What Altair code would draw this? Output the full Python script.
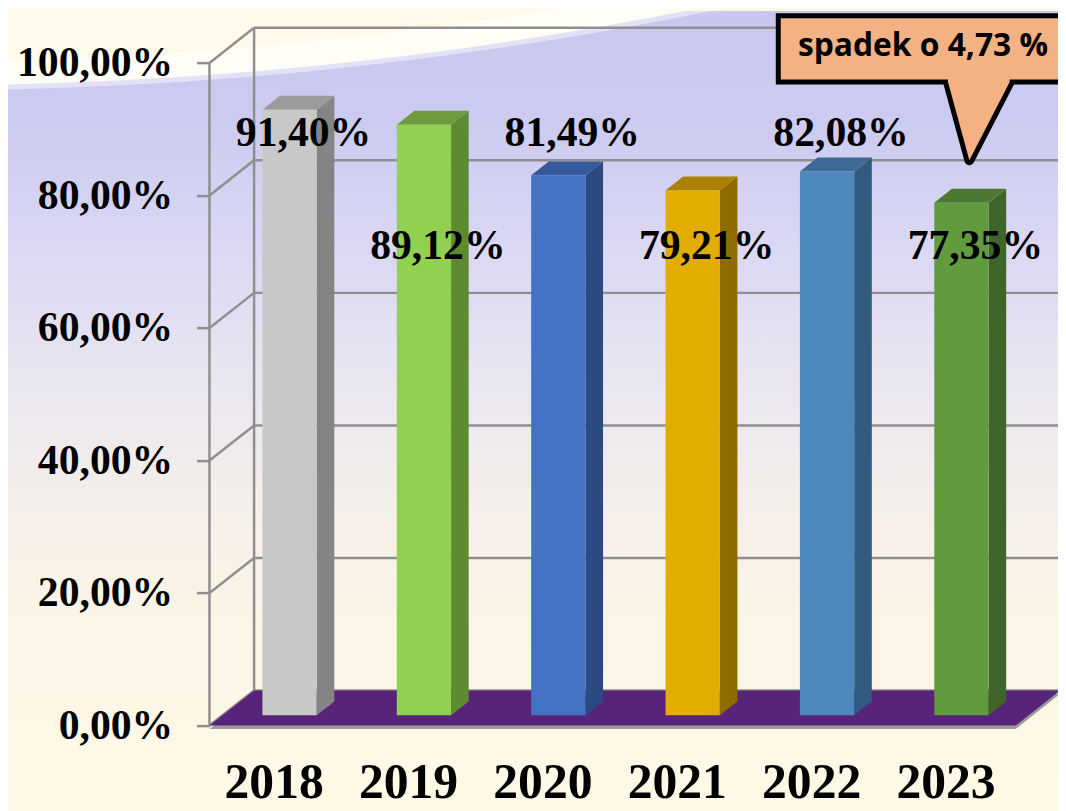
import altair as alt
import pandas as pd

# ---------------- data ----------------
years = [2018, 2019, 2020, 2021, 2022, 2023]
values = [91.40, 89.12, 81.49, 79.21, 82.08, 77.35]
y_ticks = [0, 20, 40, 60, 80, 100]

# ---------------- styles ----------------
front_colors = ["#C8C8C8", "#92D050", "#4472C4", "#E3AC00", "#4F88BE", "#629A3E"]
side_colors = ["#848484", "#5E8A32", "#2C4A82", "#8E6C00", "#325A7E", "#40652A"]
top_colors = ["#9B9B9B", "#6F9B3C", "#35599C", "#AB8200", "#3E6B96", "#4B7832"]
GRID = "#8F8F8F"
FLOOR = "#58247A"
FLOOR_SHADOW = "#9A9A9A"
CALLOUT = "#F4B183"
SERIF = "Liberation Serif"

diff = values[-2] - values[-1]
callout_text = "spadek o " + f"{diff:.2f}".replace(".", ",") + " %"

# ---------------- geometry (pseudo 3D) ----------------
STEP_PX = 135.4
PLOT_W, PLOT_H = 855, 720
PAD_L, PAD_B = 203, 83
X0 = years[0] - 0.5          # front-left edge of floor / wall
XF = years[-1] + 0.5         # front-right edge of floor
XMAX = X0 + PLOT_W / STEP_PX
YMAX = 107.83
DX, DY = 0.332, 5.3          # depth of the floor / walls
OX, OY = 0.096, 1.55         # bar offset into depth
HW = 0.202                   # half bar width
BDX, BDY = 0.131, 2.10       # bar depth
LX = 0.2
LY_HI, LY_LO = 87.45, 70.39
LY = years[-1]

XS = alt.Scale(domain=[X0, XMAX], nice=False, zero=False)
YS = alt.Scale(domain=[0, YMAX], nice=False, zero=False)


def qx(f):
    return alt.X(f, type="quantitative", scale=XS, stack=False)


def qy(f):
    return alt.Y(f, type="quantitative", scale=YS, stack=False)


one = pd.DataFrame({"one": [0]})
bars = pd.DataFrame({"year": years, "value": values})
grid = pd.DataFrame({"v": y_ticks})

# ---------------- background ----------------
lin = alt.LinearGradient(
    gradient="linear",
    stops=[
        alt.GradientStop(color="#C9C7EF", offset=0),
        alt.GradientStop(color="#CBCAF0", offset=0.13),
        alt.GradientStop(color="#DAD8F3", offset=0.3),
        alt.GradientStop(color="#E8E5F1", offset=0.45),
        alt.GradientStop(color="#F3EEEA", offset=0.6),
        alt.GradientStop(color="#FBF5E6", offset=0.76),
        alt.GradientStop(color="#FEF8E6", offset=1),
    ],
    x1=0, x2=0, y1=0, y2=1,
)
bg = alt.Chart(one).mark_rect(fill=lin).encode(
    x=alt.value(-PAD_L), x2=alt.value(PLOT_W), y=alt.value(0), y2=alt.value(PLOT_H + PAD_B)
)

# light swoosh in the upper-left corner: concentric discs of a very large circle
SW_CX, SW_CY, SW_R = -290.7, -3925.1, 4000
swoosh_rings = [
    (SW_R + 5, "#FFFFFF", 0.45),
    (SW_R, "#FFFDF6", 1.0),
    (SW_R - 25, "#FFF9EA", 1.0),
    (SW_R - 80, "#FFF6DF", 1.0),
]
swoosh = [
    alt.Chart(one).mark_arc(theta=0, theta2=6.2832, radius=r, fill=c, opacity=o).encode(
        x=alt.value(SW_CX), y=alt.value(SW_CY)
    )
    for r, c, o in swoosh_rings
]

# ---------------- walls (first layer with scales carries the axes) ----------------
back_lines = alt.Chart(grid).transform_calculate(
    xa=f"{X0 + DX}", xb=f"{XMAX + 0.2}", yb=f"datum.v + {DY}"
).mark_rule(color=GRID, strokeWidth=2.5).encode(
    x=alt.X(
        "xa:Q", scale=XS,
        axis=alt.Axis(
            values=years, format="d", orient="bottom",
            labelFont=SERIF, labelFontWeight="bold", labelFontSize=50, labelColor="black",
            labelPadding=72, labelBaseline="alphabetic", labelOffset=-3,
            ticks=False, domain=False, grid=False, title=None, zindex=1,
            labelFlush=False, labelOverlap=False,
        ),
    ),
    x2="xb:Q",
    y=alt.Y(
        "yb:Q", scale=YS,
        axis=alt.Axis(
            values=y_ticks, orient="left",
            labelExpr="replace(format(datum.value, '.2f'), '.', ',') + '%'",
            labelFont=SERIF, labelFontWeight="bold", labelFontSize=42, labelColor="black",
            labelPadding=24, tickSize=13, tickColor=GRID, tickWidth=2.5,
            domain=False, grid=False, title=None, zindex=1,
            labelFlush=False, labelOverlap=False,
        ),
    ),
)

side_lines = alt.Chart(grid).transform_calculate(
    xa=f"{X0}", xb=f"{X0 + DX}", yb=f"datum.v + {DY}"
).mark_rule(color=GRID, strokeWidth=2.5).encode(x=qx("xa"), x2="xb:Q", y=qy("v"), y2="yb:Q")

verticals = alt.Chart(one).transform_calculate(
    k="[0, 1]"
).transform_flatten(["k"]).transform_calculate(
    vx=f"{X0} + datum.k * {DX}",
    lo=f"{min(y_ticks)} + datum.k * {DY}",
    hi=f"{max(y_ticks)} + datum.k * {DY}",
).mark_rule(color=GRID, strokeWidth=2.5).encode(x=qx("vx"), y=qy("lo"), y2="hi:Q")

# ---------------- floor ----------------
floor_src = alt.Chart(one).transform_calculate(k="[0, 1]").transform_flatten(["k"]).transform_calculate(
    fx=f"{X0} + datum.k * {DX}",
    fx2=f"{XF} + datum.k * {DX}",
    fy=f"datum.k * {DY}",
    fys=f"datum.k * {DY} - 0.5",
)
floor_shadow = floor_src.mark_area(orient="horizontal", color=FLOOR_SHADOW).encode(
    y=qy("fys"), x=qx("fx"), x2="fx2:Q"
)
floor = floor_src.mark_area(orient="horizontal", color=FLOOR).encode(
    y=qy("fy"), x=qx("fx"), x2="fx2:Q"
)

# ---------------- bars ----------------
bar_src = alt.Chart(bars)
sides = bar_src.transform_calculate(k="[0, 1]").transform_flatten(["k"]).transform_calculate(
    sx=f"datum.year + {OX + HW} + datum.k * {BDX}",
    sy=f"datum.value + {OY} + datum.k * {BDY}",
    sy2=f"{OY} + datum.k * {BDY}",
).mark_area(orient="vertical").encode(
    x=qx("sx"), y=qy("sy"), y2="sy2:Q",
    fill=alt.Fill("year:N", scale=alt.Scale(domain=years, range=side_colors), legend=None),
)
tops = bar_src.transform_calculate(k="[0, 1]").transform_flatten(["k"]).transform_calculate(
    tx=f"datum.year + {OX - HW} + datum.k * {BDX}",
    tx2=f"datum.year + {OX + HW} + datum.k * {BDX}",
    ty=f"datum.value + {OY} + datum.k * {BDY}",
).mark_area(orient="horizontal").encode(
    y=qy("ty"), x=qx("tx"), x2="tx2:Q",
    fill=alt.Fill("year:N", scale=alt.Scale(domain=years, range=top_colors), legend=None),
)
fronts = bar_src.transform_calculate(
    bx=f"datum.year + {OX - HW}",
    bx2=f"datum.year + {OX + HW}",
    by=f"{OY}",
    by2=f"datum.value + {OY}",
).mark_rect().encode(
    x=qx("bx"), x2="bx2:Q", y=qy("by"), y2="by2:Q",
    fill=alt.Fill("year:N", scale=alt.Scale(domain=years, range=front_colors), legend=None),
)
labels = bar_src.transform_calculate(
    label="replace(format(datum.value, '.2f'), '.', ',') + '%'",
    lx=f"datum.year + {LX}",
    ly=f"datum.year % 2 == 0 ? {LY_HI} : {LY_LO}",
).mark_text(
    font=SERIF, fontWeight="bold", fontSize=42, baseline="alphabetic", align="center", color="black"
).encode(x=qx("lx"), y=qy("ly"), text="label:N")

# ---------------- callout ----------------
BOX_B, BOX_T = 97.12, 107.11
TRI_L, TRI_R, TIP_X, TIP_Y = LY - 0.004, LY + 0.455, LY + 0.155, 85.32

tri_stroke = alt.Chart(one).transform_calculate(k="[0, 1]").transform_flatten(["k"]).transform_calculate(
    cy=f"[{BOX_B}, {TIP_Y}][datum.k]",
    cx=f"[{TRI_L}, {TIP_X}][datum.k]",
    cx2=f"[{TRI_R}, {TIP_X}][datum.k]",
).mark_area(orient="horizontal", fill=CALLOUT, stroke="black", strokeWidth=10, strokeJoin="round").encode(
    y=qy("cy"), x=qx("cx"), x2="cx2:Q"
)
box = alt.Chart(one).transform_calculate(
    bx=f"{LY - 1.267}", bx2=f"{LY + 1.4}", by=f"{BOX_B}", by2=f"{BOX_T}"
).mark_rect(fill=CALLOUT, stroke="black", strokeWidth=5).encode(
    x=qx("bx"), x2="bx2:Q", y=qy("by"), y2="by2:Q"
)
tri_fill = alt.Chart(one).transform_calculate(k="[0, 1, 2]").transform_flatten(["k"]).transform_calculate(
    cy=f"[{BOX_B + 0.8}, {BOX_B}, {TIP_Y}][datum.k]",
    cx=f"[{TRI_L}, {TRI_L}, {TIP_X}][datum.k]",
    cx2=f"[{TRI_R}, {TRI_R}, {TIP_X}][datum.k]",
).mark_area(orient="horizontal", fill=CALLOUT).encode(
    y=qy("cy"), x=qx("cx"), x2="cx2:Q"
)
callout_label = alt.Chart(pd.DataFrame({"t": [callout_text]})).transform_calculate(
    tx=f"{LY - 0.19}", ty="101.1"
).mark_text(
    font="Open Sans", fontWeight="bold", fontSize=32, baseline="alphabetic", align="center", color="black"
).encode(x=qx("tx"), y=qy("ty"), text="t:N")

chart = alt.layer(
    bg, *swoosh, back_lines, side_lines, verticals, floor_shadow, floor,
    sides, tops, fronts, labels, tri_stroke, box, tri_fill, callout_label,
).resolve_scale(fill="independent").properties(
    width=PLOT_W, height=PLOT_H,
    autosize=alt.AutoSizeParams(type="none"),
    padding={"left": PAD_L, "right": 0, "top": 0, "bottom": PAD_B},
).configure(background="#FEF8E6").configure_view(strokeWidth=0)

chart.save("out.html", embed_options={"renderer": "svg", "actions": False})
